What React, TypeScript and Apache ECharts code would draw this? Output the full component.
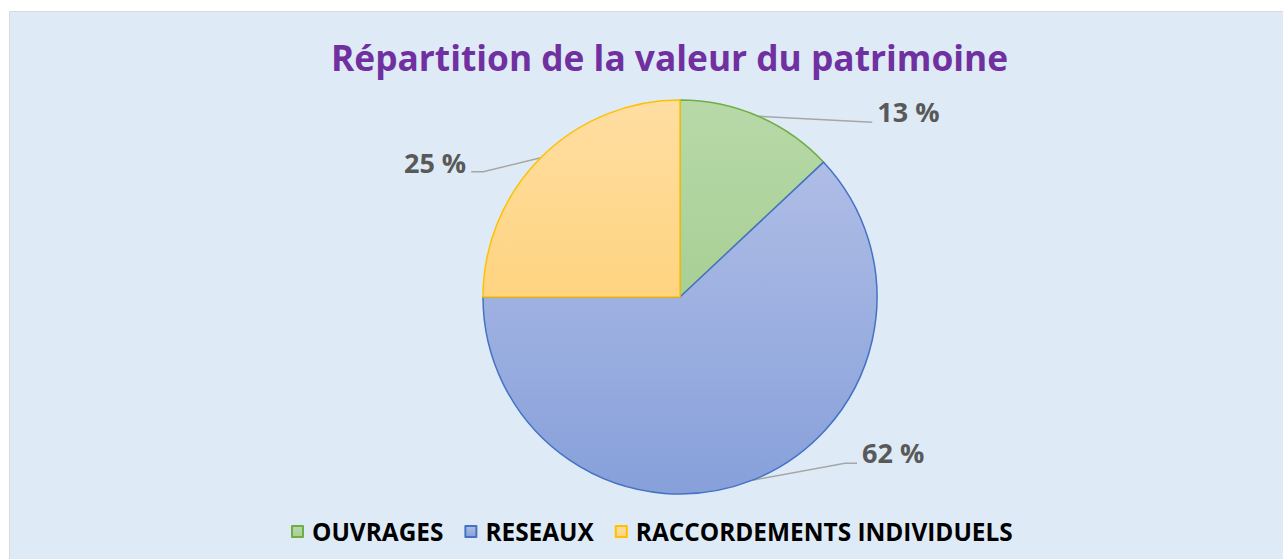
import React, { useEffect, useRef } from "react";
import * as echarts from "echarts";

const categories = ["OUVRAGES", "RESEAUX", "RACCORDEMENTS INDIVIDUELS"];
const values = [13, 62, 25];
const titleText = "Répartition de la valeur du patrimoine";

const fillStops = [
  ["#B7D9A8", "#A8CF95"],
  ["#AFBDE6", "#87A0DA"],
  ["#FFDEA2", "#FFD480"],
];
const borderColors = ["#70AD47", "#4472C4", "#FFC000"];

// label offsets relative to slice-edge anchor: [labelDx, labelDy, align, bendDx, bendDy, endDx, endDy]
const labelOffsets: [number, number, string, number, number, number, number][] = [
  [119, -4.5, "left", 114, 6, 114, 6],
  [109.5, -28, "left", 92.5, -17, 104.5, -17],
  [-74.5, 5, "right", -57.5, 14, -69.5, 14],
];

const FONT = "'Open Sans', sans-serif";

export default function App() {
  const ref = useRef<HTMLDivElement>(null);
  useEffect(() => {
    if (!ref.current) return;
    const chart = echarts.init(ref.current, null, { renderer: "svg" });
    const cx = 680;
    const cy = 297;
    const R = 197;
    const total = values.reduce((a, b) => a + b, 0);
    const data = categories.map((name, i) => ({
      name,
      value: values[i],
      itemStyle: {
        color: new echarts.graphic.LinearGradient(0, 0, 0, 1, [
          { offset: 0, color: fillStops[i][0] },
          { offset: 1, color: fillStops[i][1] },
        ]),
        borderColor: borderColors[i],
        borderWidth: 1.5,
      },
    }));
    const anchorFor = (idx: number) => {
      let acc = 0;
      for (let k = 0; k < idx; k++) acc += values[k];
      const mid = ((acc + values[idx] / 2) / total) * Math.PI * 2;
      return [cx + R * Math.sin(mid), cy - R * Math.cos(mid)];
    };
    chart.setOption({
      animation: false,
      graphic: [
        {
          type: "rect",
          z: -10,
          silent: true,
          shape: { x: 9.5, y: 11.5, width: 1300, height: 600 },
          style: { fill: "#DEEBF7", stroke: "#D9D9D9", lineWidth: 1 },
        },
      ],
      title: {
        text: titleText,
        left: 331,
        top: 39,
        padding: 0,
        textStyle: {
          fontFamily: FONT,
          fontWeight: "bold",
          fontSize: 35.3,
          color: "#7030A0",
        },
      },
      legend: {
        left: 291,
        top: 519.5,
        padding: 0,
        itemWidth: 11,
        itemHeight: 11,
        itemGap: 21,
        icon: "rect",
        data: categories,
        textStyle: {
          fontFamily: FONT,
          fontWeight: "bold",
          fontSize: 24.4,
          color: "#000000",
          padding: [0, 0, 0, 4],
        },
      },
      series: [
        {
          type: "pie",
          center: [cx, cy],
          radius: R,
          startAngle: 90,
          clockwise: true,
          avoidLabelOverlap: false,
          data,
          label: {
            show: true,
            position: "outside",
            formatter: "{c} %",
            fontFamily: FONT,
            fontWeight: "bold",
            fontSize: 27,
            color: "#595959",
          },
          labelLine: {
            show: true,
            length: 20,
            length2: 10,
            lineStyle: { color: "#A6A6A6", width: 1.5 },
          },
          labelLayout: (params: any) => {
            const i = params.dataIndex;
            const a = anchorFor(i);
            const o = labelOffsets[i];
            return {
              x: a[0] + o[0],
              y: a[1] + o[1],
              align: o[2],
              verticalAlign: "middle",
              labelLinePoints: [
                [a[0], a[1]],
                [a[0] + o[3], a[1] + o[4]],
                [a[0] + o[5], a[1] + o[6]],
              ],
            };
          },
          emphasis: { disabled: true },
        },
      ],
    });
    return () => chart.dispose();
  }, []);
  return (
    <div
      ref={ref}
      style={{ position: "absolute", left: 0, top: 0, width: 1283, height: 559 }}
    />
  );
}
